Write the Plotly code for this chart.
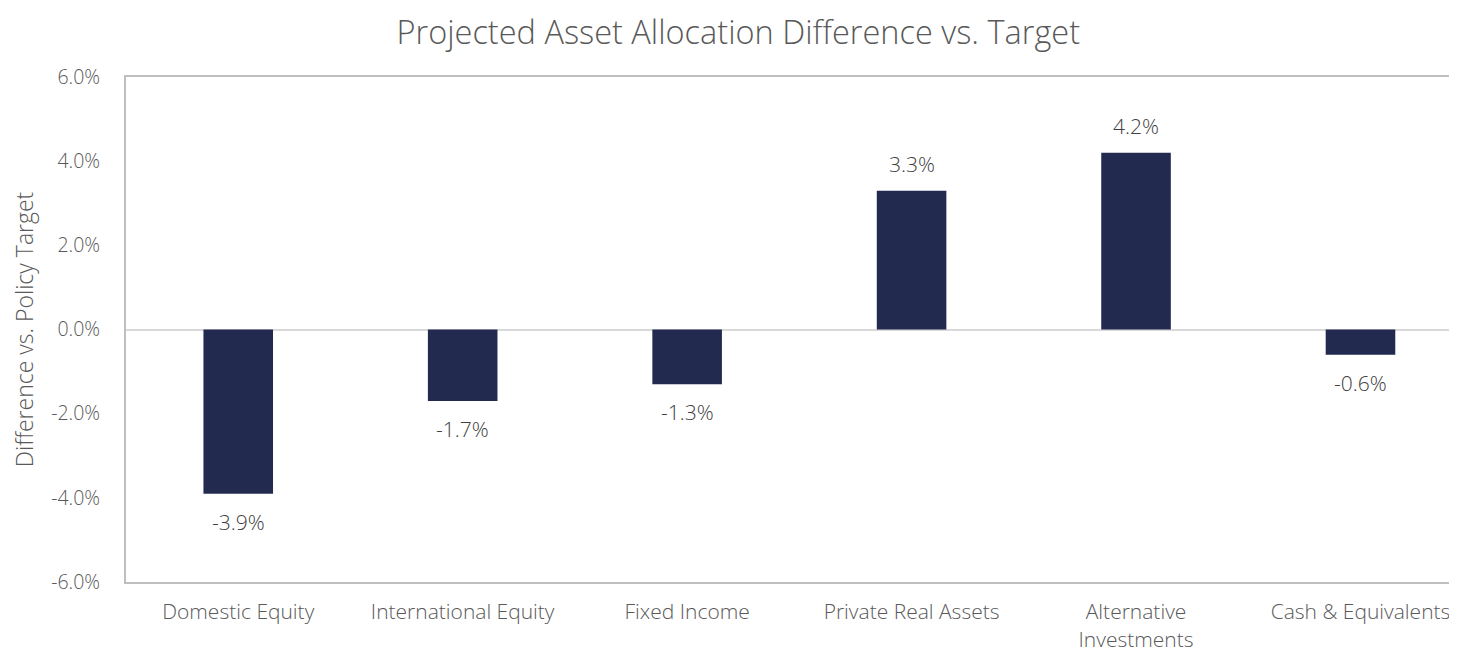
import plotly.graph_objects as go

categories = ["Domestic Equity", "International Equity", "Fixed Income",
              "Private Real Assets", "Alternative<br>Investments", "Cash & Equivalents"]
differences = [-0.039, -0.017, -0.013, 0.033, 0.042, -0.006]
y_ticks = [-0.06, -0.04, -0.02, 0.0, 0.02, 0.04, 0.06]
y_tick_labels = ["-6.0%", "-4.0%", "-2.0%", "0.0%", "2.0%", "4.0%", "6.0%"]

FONT = "Open Sans"
W = 300
BAR = "#232a4f"
GRID = "#bfbfbf"

fig = go.Figure()
fig.add_trace(go.Bar(
    x=categories, y=differences, marker=dict(color=BAR, line=dict(width=0)),
    width=0.31, hoverinfo="x+y",
))

for c, v in zip(categories, differences):
    fig.add_annotation(
        x=c, y=v, text=f"{v*100:.1f}%", showarrow=False,
        yshift=27 if v >= 0 else -28, yanchor="middle",
        font=dict(family=FONT, size=21, color="#404040", weight=W),
    )

fig.update_layout(
    width=1449, height=644,
    margin=dict(l=118, r=0, t=69, b=70),
    paper_bgcolor="white", plot_bgcolor="white",
    showlegend=False,
    title=dict(text="Projected Asset Allocation Difference vs. Target",
               x=0.504, xref="container", xanchor="center",
               y=0.962, yref="container", yanchor="middle",
               font=dict(family=FONT, size=32.5, color="#595959", weight=W)),
    font=dict(family=FONT, color="#595959", weight=W),
)
fig.update_xaxes(
    range=[-0.5, 5.43], showgrid=False, showline=True, linecolor=GRID, linewidth=2,
    mirror=True, ticks="", tickfont=dict(family=FONT, size=21, color="#595959", weight=W),
    ticklabelstandoff=10, zeroline=False, automargin=False,
)
fig.update_yaxes(
    range=[-0.06, 0.06], tickvals=y_ticks, ticktext=y_tick_labels, showgrid=False,
    zeroline=True, zerolinecolor="#d9d9d9", zerolinewidth=2,
    showline=True, linecolor=GRID, linewidth=2, automargin=False,
    tickfont=dict(family=FONT, size=19.5, color="#595959", weight=W), ticklabelstandoff=20,
    title=dict(text="Difference vs. Policy Target", standoff=16,
               font=dict(family=FONT, size=23, color="#595959", weight=W)),
)

fig.write_html("out.html")
